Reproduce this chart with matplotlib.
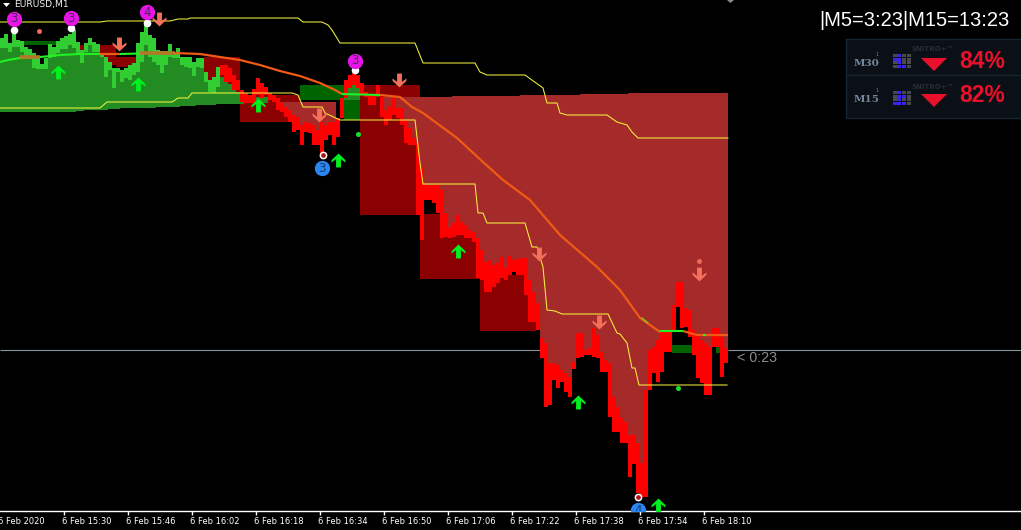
import matplotlib
matplotlib.use('Agg')
import numpy as np
import matplotlib.pyplot as plt
from matplotlib.path import Path
from matplotlib.patches import Rectangle, Polygon
from matplotlib.transforms import ScaledTranslation

tick_bars = [0, 16, 32, 48, 64, 80, 96, 112, 128, 144, 160, 176]
tick_labels = ['6 Feb 2020', '6 Feb 15:30', '6 Feb 15:46', '6 Feb 16:02', '6 Feb 16:18', '6 Feb 16:34',
               '6 Feb 16:50', '6 Feb 17:06', '6 Feb 17:22', '6 Feb 17:38', '6 Feb 17:54', '6 Feb 18:10']

# green candles, bars 0-54
up_top = [38, 34, 43, 30, 40, 41, 47, 49, 53, 58, 64, 58, 44, 47, 41, 38, 36, 34, 30, 42,
          50, 43, 38, 42, 44, 53, 57, 62, 68, 68, 70, 68, 65, 63, 43, 32, 25, 35, 38, 50,
          51, 51, 44, 54, 48, 57, 57, 57, 62, 58, 58, 72, 80, 77, 67]
up_bot = [48, 48, 52, 47, 47, 52, 57, 58, 68, 69, 69, 69, 58, 57, 53, 49, 49, 45, 48, 53,
          63, 52, 45, 52, 52, 57, 77, 70, 88, 72, 82, 78, 80, 75, 72, 62, 45, 57, 62, 65,
          73, 65, 57, 58, 58, 65, 67, 68, 76, 67, 68, 82, 92, 93, 87]
# green area below the candles, bars 0-66
forest_bot = [112, 112, 112, 112, 112, 112, 112, 112, 112, 112, 112, 112, 112, 112, 112, 112, 112, 112, 112, 111,
              111, 110, 110, 110, 110, 110, 110, 109, 109, 109, 108, 108, 108, 108, 108, 108, 108, 108, 108, 107,
              107, 107, 107, 107, 107, 106, 106, 106, 106, 105, 105, 105, 105, 105, 104, 104, 104, 104, 104, 104,
              104, 103, 103, 103, 103, 103, 103]
forest_top = up_bot + [77, 80, 84, 88, 92, 96, 97, 97, 97, 97, 97, 97]

# red candles, bars 55-181
down_top = [65, 65, 68, 75, 80, 90, 93, 95, 89, 78, 83, 87, 93, 95, 98, 103, 107, 110, 115, 117,
            125, 122, 123, 125, 130, 122, 125, 122, 122, 118, 98, 80, 75, 73, 75, 83, 92, 95, 95, 85,
            97, 110, 107, 98, 108, 108, 120, 128, 138, 143, 167, 185, 185, 185, 185, 190, 213, 227, 223, 215,
            222, 225, 230, 232, 238, 250, 262, 260, 265, 263, 257, 267, 256, 260, 259, 258, 258, 280, 292, 303,
            338, 343, 363, 363, 365, 370, 373, 377, 362, 333, 333, 350, 348, 328, 335, 352, 360, 363, 397, 407,
            418, 422, 435, 435, 443, 463, 390, 350, 347, 340, 332, 332, 332, 305, 282, 282, 308, 310, 330, 335,
            340, 343, 347, 328, 328, 337, 348]
down_bot = [75, 82, 82, 90, 90, 102, 103, 103, 103, 95, 98, 95, 100, 102, 110, 112, 117, 122, 132, 130,
            145, 132, 133, 145, 145, 153, 140, 135, 145, 137, 118, 98, 88, 85, 88, 95, 97, 105, 105, 95,
            117, 125, 120, 115, 118, 125, 143, 145, 145, 215, 240, 200, 200, 203, 213, 238, 237, 238, 237, 235,
            235, 238, 238, 242, 278, 280, 292, 292, 287, 283, 278, 280, 275, 272, 275, 275, 295, 322, 322, 330,
            358, 407, 405, 380, 388, 382, 392, 397, 369, 358, 357, 355, 355, 357, 358, 372, 372, 417, 432, 432,
            443, 443, 477, 464, 493, 497, 497, 390, 373, 382, 372, 352, 352, 332, 307, 328, 327, 337, 355, 378,
            383, 395, 395, 347, 347, 377, 363]

# translucent brown cloud, from its top down to the candle top
cloud_a_top = [102] * 15
cloud_b_top = [97] * 19 + [96] * 17 + [95] * 15 + [94] * 12 + [93] * 25

# flat blocks behind the candles: first bar, last bar + 1, top, bottom
maroon_start = [20, 25, 29, 51, 60, 90, 105, 120]
maroon_end = [21, 29, 34, 60, 75, 105, 120, 134]
maroon_top = [45, 45, 57, 57, 95, 85, 214, 275]
maroon_bot = [50, 65, 67, 100, 122, 215, 279, 331]
dkgreen_start = [6, 75, 86, 168, 179, 165]
dkgreen_end = [14, 86, 90, 173, 181, 166]
dkgreen_top = [41, 85, 100, 345, 347, 350]
dkgreen_bot = [45, 100, 120, 353, 353, 353]
peak_start = [86]
peak_end = [90]
peak_top = [85]
peak_bot = [100]

# yellow bands
upper_x = [0, 25, 26.75, 42.5, 44.5, 47, 47.5, 74.5, 75.75, 80.5, 82, 83, 85, 103.75, 105.75, 118.75, 120, 121.75,
           131.25, 135.75, 136.75, 139.25, 140, 141.75, 151.75, 154.25, 156.75, 158, 159.5, 182]
upper_y = [22, 22, 21, 21, 19, 19, 18, 18, 22, 22, 25, 30, 43, 43, 63, 63, 72, 75,
           75, 88, 103, 103, 113, 115, 115, 122, 125, 132, 138, 138]
lower_x = [0, 25, 26.75, 43, 44.5, 47, 48, 73, 74.5, 75.75, 80.5, 81.25, 85, 103.75, 105, 105.75, 118.75, 119.5,
           120.75, 121.75, 131.25, 133, 134.25, 135.75, 136.75, 138.75, 140.5, 152, 154.25, 155, 156.75, 158,
           158.75, 159.75, 181.75]
lower_y = [108, 108, 102, 102, 98, 98, 93, 93, 95, 107, 107, 113, 120, 120, 163, 184, 184, 213,
           213, 223, 223, 247, 247, 267, 310, 311, 314, 314, 333, 334, 343, 368,
           368, 385, 385]

# moving average, split by colour
ma_red_x = [43.75, 50, 55, 60, 65, 70, 75, 80, 83.75, 85.5]
ma_red_y = [53, 54, 57, 60, 65, 71, 76, 83, 90, 94]
ma_red2_x = [95, 100, 103, 105.75, 114.25, 120.75, 125.75, 132.5, 140, 149.25, 155, 160, 165]
ma_red2_y = [95, 97, 107, 113, 138, 162, 180, 200, 235, 267, 290, 318, 332]
ma_red3_x = [170.75, 174.25, 182]
ma_red3_y = [331, 335, 335]
ma_red4_x = [25, 30]
ma_red4_y = [54, 54]
ma_lime_x = [0, 2, 5, 10, 15, 20, 25]
ma_lime_y = [62, 60, 58, 57, 55, 54, 54]
ma_lime2_x = [30, 35]
ma_lime2_y = [54, 53.5]
ma_lime3_x = [85.5, 95]
ma_lime3_y = [94, 95]
ma_lime4_x = [165, 170.75]
ma_lime4_y = [331, 331]
ma_lime5_x = [160.5, 162]
ma_lime5_y = [318, 323]
ma_lime6_x = [175.75, 176.5]
ma_lime6_y = [335, 335]
ma_tan_x = [5, 10, 35, 43.75]
ma_tan_y = [57, 57, 53, 53]

price_level = 350
buy_x = [14.5, 34.5, 64.5, 84.5, 114.5, 144.5, 164.5]
buy_y = [72, 84, 105, 160, 251, 402, 505]
sell_x = [29.75, 39.75, 79.75, 99.75, 134.75, 149.75, 174.75]
sell_y = [44, 19, 115, 80, 254, 322, 274]
lime_dot_x = [89.5, 169.5]
lime_dot_y = [134, 388]
salmon_dot_x = [9.75, 174.75]
salmon_dot_y = [31, 261]
white_dot_x = [3.5, 17.75, 36.75, 88.75]
white_dot_y = [30, 28, 23, 70]
ring_x = [80.75, 159.5]
ring_y = [155, 497]
pink_x = [3.5, 17.75, 36.75, 88.75]
pink_y = [19, 18, 12, 61]
pink_text = ['3', '3', '4', '3']
blue_x = [80.5, 159.5]
blue_y = [168, 510]
blue_text = ['3', '4']

# panel on the right
panel_tf = ['M30', 'M15']
panel_pct = ['84%', '82%']
panel_grid = [[0, 1, 0, 0, 1, 1, 0, 0, 0, 1, 0, 0, 0, 1, 1, 0],
              [0, 1, 0, 0, 0, 1, 1, 0, 0, 1, 0, 0, 1, 1, 1, 0]]

BAR_PX = 4
W, H = 1021, 530
fig = plt.figure(figsize=(W / 100, H / 100), dpi=100, facecolor='black')
ax = fig.add_axes([0, (H - 511) / H, 1, 511 / H], facecolor='black')
ax.set_xlim(0, W / BAR_PX)
ax.set_ylim(511, 0)


def col_bars(start, tops, bots, color, z):
    xs = np.arange(start, start + len(tops)) + 0.5
    tops = np.array(tops, dtype=float)
    bots = np.array(bots, dtype=float)
    ax.bar(xs, bots - tops, bottom=tops, width=1.0, color=color, linewidth=0, antialiased=False, zorder=z)


def blocks(start, end, top, bot, color, z):
    start, end, top, bot = map(lambda a: np.array(a, dtype=float), (start, end, top, bot))
    ax.bar(start, bot - top, bottom=top, width=end - start, align='edge', color=color, linewidth=0,
           antialiased=False, zorder=z)


# gray level line, hidden in the brown part
ax.hlines(price_level, 0, 135, color='#8a939c', lw=0.8, zorder=1)
ax.hlines(price_level, 182, W / BAR_PX, color='#8a939c', lw=0.8, zorder=1)

blocks(maroon_start, maroon_end, maroon_top, maroon_bot, '#8B0000', 2)
blocks(dkgreen_start, dkgreen_end, dkgreen_top, dkgreen_bot, '#006400', 2.1)
blocks(peak_start, peak_end, peak_top, peak_bot, '#228B22', 2.2)

col_bars(0, forest_top, forest_bot, '#228B22', 3)
col_bars(0, up_top, up_bot, '#32CD32', 4)

# brown cloud stops at the candle top
col_bars(69, cloud_a_top, down_top[69 - 55:84 - 55], '#A52A2A', 3.5)
col_bars(94, cloud_b_top, down_top[94 - 55:], '#A52A2A', 3.5)
col_bars(55, down_top, down_bot, '#FF0000', 4)

ax.plot(upper_x, upper_y, color='#F2F23C', lw=0.75, zorder=5)
ax.plot(lower_x, lower_y, color='#F2F23C', lw=0.75, zorder=5)

for xs, ys in [(ma_red_x, ma_red_y), (ma_red2_x, ma_red2_y), (ma_red3_x, ma_red3_y), (ma_red4_x, ma_red4_y)]:
    ax.plot(xs, ys, color='#F05A14', lw=1.6, zorder=6, solid_capstyle='butt')
for xs, ys in [(ma_lime_x, ma_lime_y), (ma_lime2_x, ma_lime2_y), (ma_lime3_x, ma_lime3_y),
               (ma_lime4_x, ma_lime4_y), (ma_lime6_x, ma_lime6_y)]:
    ax.plot(xs, ys, color='#22F022', lw=1.5, zorder=6.1, solid_capstyle='butt')
ax.plot(ma_lime5_x, ma_lime5_y, color='#7ACC22', lw=1, zorder=6.1)
ax.plot(ma_tan_x[2:], ma_tan_y[2:], color='#B5762A', lw=2.6, zorder=6.2, solid_capstyle='butt')
ax.plot(ma_tan_x[:2], ma_tan_y[:2], color='#B5762A', lw=2.6, zorder=6.2, solid_capstyle='butt')

# arrow glyphs
up_arrow = Path([(0, 1), (1, 0.05), (1, -0.3), (0.35, 0.2), (0.35, -1), (-0.35, -1), (-0.35, 0.2), (-1, -0.3),
                 (-1, 0.05), (0, 1)], closed=True)
down_arrow = Path([(0, -1), (1, -0.05), (1, 0.3), (0.35, -0.2), (0.35, 1), (-0.35, 1), (-0.35, -0.2), (-1, 0.3),
                   (-1, -0.05), (0, -1)], closed=True)
ax.plot(buy_x, buy_y, ls='', marker=up_arrow, ms=10, mfc='#00F020', mew=0, zorder=8)
ax.plot(sell_x, sell_y, ls='', marker=down_arrow, ms=10, mfc='#F4705A', mew=0, zorder=8)
ax.plot(lime_dot_x, lime_dot_y, ls='', marker='o', ms=3.6, mfc='#18E028', mew=0, zorder=8)
ax.plot(salmon_dot_x, salmon_dot_y, ls='', marker='o', ms=3.6, mfc='#EE6A5A', mew=0, zorder=8)
ax.plot(white_dot_x, white_dot_y, ls='', marker='o', ms=5.5, mfc='white', mew=0, zorder=8)
ax.plot(ring_x, ring_y, ls='', marker='o', ms=4.5, mfc='#B01010', mec='white', mew=1.1, zorder=8)
ax.plot(pink_x, pink_y, ls='', marker='o', ms=11, mfc='#E614E6', mew=0, zorder=9)
ax.plot(blue_x, blue_y, ls='', marker='o', ms=11, mfc='#2A86F0', mew=0, zorder=9)
for x, y, s in zip(pink_x, pink_y, pink_text):
    ax.text(x, y, s, color='#4A2A5A', fontsize=8.5, ha='center', va='center', zorder=10, clip_on=True)
for x, y, s in zip(blue_x, blue_y, blue_text):
    ax.text(x, y, s, color='#123A78', fontsize=8.5, ha='center', va='center', zorder=10, clip_on=True)

# time axis
for side in ['top', 'left', 'right']:
    ax.spines[side].set_visible(False)
ax.spines['bottom'].set_color('white')
ax.spines['bottom'].set_linewidth(1)
ax.set_yticks([])
ax.set_xticks(tick_bars, tick_labels, ha='left', fontsize=6.0, color='white', family='DejaVu Sans')
ax.tick_params(axis='x', colors='white', length=3, width=1, pad=1.5)
ax.get_xticklines()[0].set_visible(False)
shift = ScaledTranslation(-2 / 100, 0, fig.dpi_scale_trans)
for lab in ax.get_xticklabels():
    lab.set_transform(lab.get_transform() + shift)

# overlay in pixels for the screen furniture
ov = fig.add_axes([0, 0, 1, 1], facecolor='none')
ov.set_xlim(0, W)
ov.set_ylim(H, 0)
ov.axis('off')
ov.add_patch(Polygon([(3, 3), (10, 3), (6.5, 7)], closed=True, fc='white', ec='none'))
ov.add_patch(Polygon([(727, 0), (734, 0), (730.5, 3)], closed=True, fc='#8C8C8C', ec='none'))
ov.text(14, 5, 'EURUSD,M1', color='#F0F0F0', fontsize=6.6, family='DejaVu Sans', va='center')
ov.text(819, 21, '|M5=3:23|M15=13:23', color='white', fontsize=14.5, family='Liberation Sans', va='center')
ov.text(737, 358, '< 0:23', color='#8C8C8C', fontsize=10.3, family='Liberation Sans', va='center')

ov.add_patch(Rectangle((846, 39), 180, 79, fc='#0A1016', ec='#16252F', lw=1))
ov.plot([846, 1021], [75, 75], color='#16252F', lw=1)
for k, y0 in enumerate([39, 75]):
    ov.text(867, y0 + 25, panel_tf[k], color='#76869A', fontsize=7.5, fontweight='bold', ha='center', va='center',
            family='DejaVu Serif')
    ov.text(877, y0 + 16, '1', color='#6F7E90', fontsize=3.5, ha='center', va='center')
    ov.text(933, y0 + 10 + k * 2, 'SNITRO+™', color='#252D38', fontsize=5, fontweight='bold', ha='center',
            va='center', family='DejaVu Sans')
    for n, on in enumerate(panel_grid[k]):
        col, row = n % 4, n // 4
        ov.add_patch(Rectangle((892.5 + col * 4.9, y0 + 15 + row * 3.6 + k * 1), 4, 3,
                               fc='#3A22F0' if on else '#4A4A4E', ec='none'))
    ov.add_patch(Polygon([(921, y0 + 19), (947, y0 + 19), (934, y0 + 32)], closed=True,
                         fc='#E8102A', ec='none'))
    ov.text(959, y0 + 22 - k * 1, panel_pct[k], color='#E8102A', fontsize=16.5, fontweight='bold',
            family='Liberation Sans', va='center')

fig.savefig('out.png', dpi=100, facecolor='black')
